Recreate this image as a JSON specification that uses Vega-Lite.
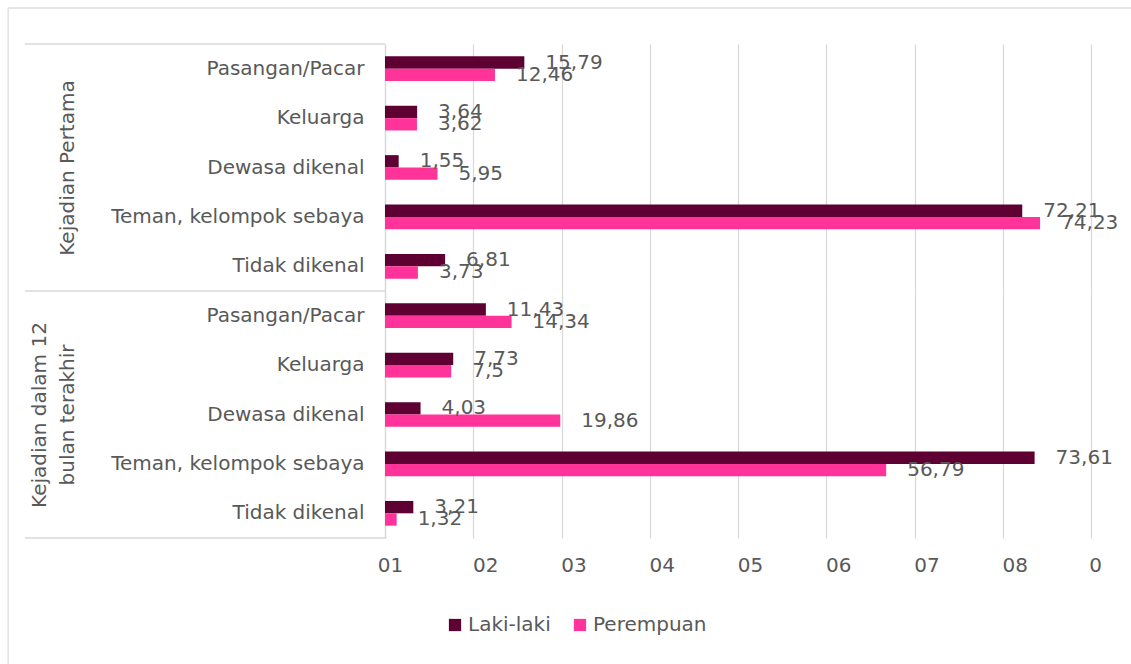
{
  "$schema": "https://vega.github.io/schema/vega-lite/v6.json",
  "padding": {"left": 7, "top": 7, "right": 0, "bottom": 0},
  "background": "white",
  "bounds": "flush",
  "datasets": {"rows": [
    {"group": "Kejadian Pertama", "category": "Pasangan/Pacar", "sex": "Laki-laki", "value": 15.79},
    {"group": "Kejadian Pertama", "category": "Pasangan/Pacar", "sex": "Perempuan", "value": 12.46},
    {"group": "Kejadian Pertama", "category": "Keluarga", "sex": "Laki-laki", "value": 3.64},
    {"group": "Kejadian Pertama", "category": "Keluarga", "sex": "Perempuan", "value": 3.62},
    {"group": "Kejadian Pertama", "category": "Dewasa dikenal", "sex": "Laki-laki", "value": 1.55},
    {"group": "Kejadian Pertama", "category": "Dewasa dikenal", "sex": "Perempuan", "value": 5.95},
    {"group": "Kejadian Pertama", "category": "Teman, kelompok sebaya", "sex": "Laki-laki", "value": 72.21},
    {"group": "Kejadian Pertama", "category": "Teman, kelompok sebaya", "sex": "Perempuan", "value": 74.23},
    {"group": "Kejadian Pertama", "category": "Tidak dikenal", "sex": "Laki-laki", "value": 6.81},
    {"group": "Kejadian Pertama", "category": "Tidak dikenal", "sex": "Perempuan", "value": 3.73},
    {"group": "Kejadian dalam 12 bulan terakhir", "category": "Pasangan/Pacar", "sex": "Laki-laki", "value": 11.43},
    {"group": "Kejadian dalam 12 bulan terakhir", "category": "Pasangan/Pacar", "sex": "Perempuan", "value": 14.34},
    {"group": "Kejadian dalam 12 bulan terakhir", "category": "Keluarga", "sex": "Laki-laki", "value": 7.73},
    {"group": "Kejadian dalam 12 bulan terakhir", "category": "Keluarga", "sex": "Perempuan", "value": 7.5},
    {"group": "Kejadian dalam 12 bulan terakhir", "category": "Dewasa dikenal", "sex": "Laki-laki", "value": 4.03},
    {"group": "Kejadian dalam 12 bulan terakhir", "category": "Dewasa dikenal", "sex": "Perempuan", "value": 19.86},
    {"group": "Kejadian dalam 12 bulan terakhir", "category": "Teman, kelompok sebaya", "sex": "Laki-laki", "value": 73.61},
    {"group": "Kejadian dalam 12 bulan terakhir", "category": "Teman, kelompok sebaya", "sex": "Perempuan", "value": 56.79},
    {"group": "Kejadian dalam 12 bulan terakhir", "category": "Tidak dikenal", "sex": "Laki-laki", "value": 3.21},
    {"group": "Kejadian dalam 12 bulan terakhir", "category": "Tidak dikenal", "sex": "Perempuan", "value": 1.32}
  ]},
  "spacing": 0,
  "vconcat": [
    {
      "width": 706,
      "height": 247,
      "data": {"name": "rows"},
      "transform": [
        {"filter": "datum.group == 'Kejadian Pertama'"},
        {"calculate": "replace(toString(datum.value), '.', ',')", "as": "label"}
      ],
      "layer": [
        {
          "layer": [
            {
              "mark": {"type": "bar"},
              "encoding": {
                "y": {"field": "category", "type": "nominal",
                      "sort": ["Pasangan/Pacar", "Keluarga", "Dewasa dikenal", "Teman, kelompok sebaya", "Tidak dikenal"],
                      "scale": {"paddingInner": 0.5, "paddingOuter": 0.25},
                      "axis": {"title": "Kejadian Pertama", "titleFontSize": 20, "titleFontWeight": "normal", "titleColor": "#595959", "titlePadding": 108,
                               "ticks": false, "domain": true, "domainColor": "#d9d9d9", "domainWidth": 1.3,
                               "labelPadding": 21, "labelFontSize": 20, "labelColor": "#595959", "labelLimit": 400, "grid": false}},
                "yOffset": {"field": "sex", "type": "nominal", "sort": ["Laki-laki", "Perempuan"]},
                "x": {"field": "value", "type": "quantitative",
                      "scale": {"domain": [0, 80], "nice": false},
                      "axis": {"title": null, "values": [0, 10, 20, 30, 40, 50, 60, 70, 80], "labels": false,
                               "domain": false, "ticks": false, "grid": true, "gridColor": "#d9d9d9", "gridWidth": 1.3}},
                "color": {"field": "sex", "type": "nominal",
                          "scale": {"domain": ["Laki-laki", "Perempuan"], "range": ["#5e0032", "#ff3399"]},
                          "legend": {"title": null, "orient": "none", "direction": "horizontal",
                                     "legendX": 60, "legendY": 571,
                                     "symbolType": "square", "symbolSize": 150, "labelFontSize": 20,
                                     "labelColor": "#595959", "columnPadding": 19, "labelOffset": 3}}
              }
            },
            {
              "mark": {"type": "text", "align": "left", "baseline": "middle", "dx": 21, "fontSize": 20, "color": "#595959"},
              "encoding": {
                "y": {"field": "category", "type": "nominal",
                      "sort": ["Pasangan/Pacar", "Keluarga", "Dewasa dikenal", "Teman, kelompok sebaya", "Tidak dikenal"]},
                "yOffset": {"field": "sex", "type": "nominal", "sort": ["Laki-laki", "Perempuan"]},
                "x": {"field": "value", "type": "quantitative"},
                "text": {"field": "label"}
              }
            }
          ]
        },
        {
          "transform": [{"filter": "datum.category == 'Pasangan/Pacar' && datum.sex == 'Laki-laki'"}],
          "layer": [
            {
              "mark": {"type": "rule", "color": "#d9d9d9", "strokeWidth": 1.3},
              "encoding": {
                "x": {"datum": -40.8, "type": "quantitative"},
                "x2": {"datum": 0},
                "y": {"datum": 1, "type": "quantitative", "scale": {"domain": [0, 1]}, "axis": null}
              }
            },
            {
              "mark": {"type": "rule", "color": "#dedede", "strokeWidth": 1.3},
              "encoding": {
                "x": {"datum": -42.7, "type": "quantitative"},
                "x2": {"datum": 85},
                "y": {"datum": 1.1457, "type": "quantitative", "scale": {"domain": [0, 1]}, "axis": null}
              }
            },
            {
              "mark": {"type": "rule", "color": "#dedede", "strokeWidth": 1.3},
              "encoding": {
                "x": {"datum": -42.7, "type": "quantitative"},
                "y": {"datum": 1.1457, "type": "quantitative", "scale": {"domain": [0, 1]}, "axis": null},
                "y2": {"datum": -1.52}
              }
            }
          ]
        }
      ],
      "resolve": {"scale": {"y": "independent"}}
    },
    {
      "width": 706,
      "height": 247,
      "data": {"name": "rows"},
      "transform": [
        {"filter": "datum.group == 'Kejadian dalam 12 bulan terakhir'"},
        {"calculate": "replace(toString(datum.value), '.', ',')", "as": "label"}
      ],
      "layer": [
        {
          "layer": [
            {
              "mark": {"type": "bar"},
              "encoding": {
                "y": {"field": "category", "type": "nominal",
                      "sort": ["Pasangan/Pacar", "Keluarga", "Dewasa dikenal", "Teman, kelompok sebaya", "Tidak dikenal"],
                      "scale": {"paddingInner": 0.5, "paddingOuter": 0.25},
                      "axis": {"title": ["Kejadian dalam 12", "bulan terakhir"], "titleFontSize": 20, "titleFontWeight": "normal", "titleColor": "#595959", "titlePadding": 108, "titleLineHeight": 28,
                               "ticks": false, "domain": true, "domainColor": "#d9d9d9", "domainWidth": 1.3,
                               "labelPadding": 21, "labelFontSize": 20, "labelColor": "#595959", "labelLimit": 400, "grid": false}},
                "yOffset": {"field": "sex", "type": "nominal", "sort": ["Laki-laki", "Perempuan"]},
                "x": {"field": "value", "type": "quantitative",
                      "scale": {"domain": [0, 80], "nice": false},
                      "axis": {"title": null, "values": [0, 10, 20, 30, 40, 50, 60, 70, 80],
                               "labelExpr": "datum.value == 80 ? '0' : '0' + (datum.value / 10 + 1)",
                               "labelFlush": false,
                               "labelOffset": {"condition": [{"test": "datum.value == 0", "value": 5}, {"test": "datum.value == 80", "value": 4}], "value": 12},
                               "domain": false, "ticks": false, "grid": true, "gridColor": "#d9d9d9", "gridWidth": 1.3,
                               "labelPadding": 17, "labelFontSize": 20, "labelColor": "#595959"}},
                "color": {"field": "sex", "type": "nominal",
                          "scale": {"domain": ["Laki-laki", "Perempuan"], "range": ["#5e0032", "#ff3399"]}}
              }
            },
            {
              "mark": {"type": "text", "align": "left", "baseline": "middle", "dx": 21, "fontSize": 20, "color": "#595959"},
              "encoding": {
                "y": {"field": "category", "type": "nominal",
                      "sort": ["Pasangan/Pacar", "Keluarga", "Dewasa dikenal", "Teman, kelompok sebaya", "Tidak dikenal"]},
                "yOffset": {"field": "sex", "type": "nominal", "sort": ["Laki-laki", "Perempuan"]},
                "x": {"field": "value", "type": "quantitative"},
                "text": {"field": "label"}
              }
            }
          ]
        },
        {
          "transform": [{"filter": "datum.category == 'Pasangan/Pacar' && datum.sex == 'Laki-laki'"}],
          "mark": {"type": "rule", "color": "#d9d9d9", "strokeWidth": 1.3},
          "encoding": {
            "x": {"datum": -40.8, "type": "quantitative"},
            "x2": {"datum": 0},
            "y": {"datum": 1, "type": "quantitative", "scale": {"domain": [0, 1]}, "axis": null}
          }
        },
        {
          "transform": [{"filter": "datum.category == 'Tidak dikenal' && datum.sex == 'Laki-laki'"}],
          "mark": {"type": "rule", "color": "#d9d9d9", "strokeWidth": 1.3},
          "encoding": {
            "x": {"datum": -40.8, "type": "quantitative"},
            "x2": {"datum": 0},
            "y": {"datum": 0, "type": "quantitative", "scale": {"domain": [0, 1]}, "axis": null}
          }
        }
      ],
      "resolve": {"scale": {"y": "independent"}}
    }
  ],
  "config": {
    "font": "DejaVu Sans",
    "view": {"stroke": null}
  }
}
